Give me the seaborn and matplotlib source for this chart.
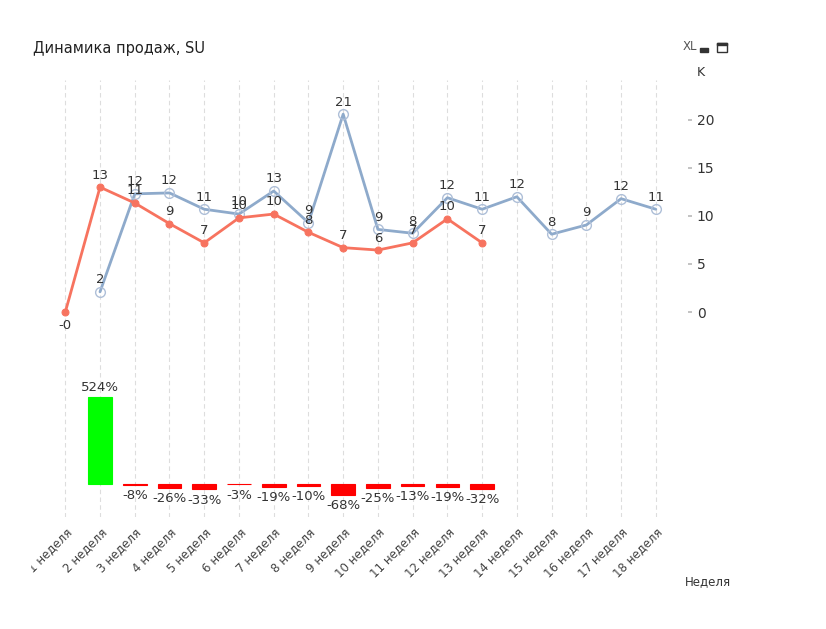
import numpy as np
import pandas as pd
import seaborn as sns
import matplotlib.pyplot as plt
from matplotlib.transforms import Bbox, TransformedBbox

# data (thousands, SU)
weeks = [f"{i} неделя" for i in range(1, 19)]
blue_vals = [np.nan, 2.1, 12.3, 12.4, 10.7, 10.2, 12.6, 9.3, 20.6, 8.6, 8.2,
             11.9, 10.7, 12.0, 8.1, 9.06, 11.8, 10.7]
red_vals = [-0.02, 13.0, 11.35, 9.2, 7.2, 9.8, 10.2, 8.3, 6.7, 6.45, 7.2, 9.7, 7.2]
pct_weeks = list(range(1, 13))  # positions of weeks 2..13
pct_vals = [524, -8, -26, -33, -3, -19, -10, -68, -25, -13, -19, -32]

blue_c = "#8eaacb"
red_c = "#f7735f"
txt_c = "#333333"

sns.set_theme(style="white")
plt.rcParams['font.family'] = ['DejaVu Sans']

fig = plt.figure(figsize=(8.26, 6.29), dpi=100)
ax = fig.add_axes([0.058, 0.178, 0.757, 0.695])

pos = np.arange(len(weeks))
df_b = pd.DataFrame({'x': pos, 'y': blue_vals}).dropna()
df_r = pd.DataFrame({'x': pos[:len(red_vals)], 'y': red_vals})

# percentage bars on a hidden twin axis (drawn below the lines)
ax2 = ax.twinx()
ax.set_zorder(ax2.get_zorder() + 1)
ax.patch.set_visible(False)
for p in pos:
    ax2.axvline(p, color='#dddddd', lw=0.8, ls=(0, (4, 3)), zorder=0)
df_p = pd.DataFrame({'x': pct_weeks, 'y': pct_vals,
                     'sign': ['pos' if v > 0 else 'neg' for v in pct_vals]})
sns.barplot(data=df_p, x='x', y='y', hue='sign', dodge=False, native_scale=True,
            palette={'pos': '#00ff00', 'neg': '#ff0000'}, width=0.68,
            saturation=1, legend=False, ax=ax2, zorder=2)
for bar in ax2.patches:
    bar.set_edgecolor(bar.get_facecolor())
    bar.set_linewidth(0.8)
ax2.set_ylim(-199, 2434)
ax2.set_xlim(-0.5, len(weeks) - 0.5)
ax2.set_yticks([])
ax2.set_ylabel("")
ax2.set_xlabel("")
for s in ax2.spines.values():
    s.set_visible(False)
for x, v in zip(pct_weeks, pct_vals):
    if v > 0:
        ax2.annotate(f"{v}%", (x, v), xytext=(0, 2), textcoords='offset points',
                     ha='center', va='bottom', fontsize=9.5, color=txt_c)
    else:
        ax2.annotate(f"{v}%", (x, v), xytext=(0, -3), textcoords='offset points',
                     ha='center', va='top', fontsize=9.5, color=txt_c)

sns.lineplot(data=df_b, x='x', y='y', color=blue_c, lw=2, marker='o', ms=7,
             markerfacecolor='none', markeredgecolor='#aebfd8', markeredgewidth=1,
             ax=ax, zorder=3)
sns.lineplot(data=df_r, x='x', y='y', color=red_c, lw=2, marker='o', ms=5,
             markerfacecolor=red_c, markeredgecolor=red_c, ax=ax, zorder=4)

for x, y in zip(df_b['x'], df_b['y']):
    ax.annotate(f"{y:.0f}", (x, y), xytext=(0, 4), textcoords='offset points',
                ha='center', va='bottom', fontsize=9.5, color=txt_c, zorder=6)
for x, y in zip(df_r['x'], df_r['y']):
    if y < 0:
        ax.annotate(f"{y:.0f}", (x, y), xytext=(0, -5), textcoords='offset points',
                    ha='center', va='top', fontsize=9.5, color=txt_c, zorder=6)
    else:
        ax.annotate(f"{y:.0f}", (x, y), xytext=(0, 4), textcoords='offset points',
                    ha='center', va='bottom', fontsize=9.5, color=txt_c, zorder=6)

ax.set_xlim(-0.5, len(weeks) - 0.5)
ax.set_ylim(-21.35, 24.17)
ax.set_xticks(pos)
ax.set_xticklabels(weeks, rotation=45, ha='right', rotation_mode='anchor',
                   fontsize=8.5, color='#444444')
ax.tick_params(axis='x', length=0, pad=6)
# the first label is cut at the chart's left edge, as in the original
clip = TransformedBbox(Bbox([[31 / 826, 0], [1, 1]]), fig.transFigure)
for lab in ax.get_xticklabels():
    lab.set_clip_on(True)
    lab.set_clip_box(clip)
ax.yaxis.tick_right()
ax.set_yticks([0, 5, 10, 15, 20])
ax.tick_params(axis='y', left=False, right=True, labelleft=False, labelright=True,
               length=3, color='#bbbbbb', labelsize=10, labelcolor=txt_c, pad=3,
               direction='out')
for s in ax.spines.values():
    s.set_visible(False)
ax.spines['right'].set_position(('outward', 11))
ax.set_xlabel("")
ax.set_ylabel("")

fig.text(0.04, 0.923, "Динамика продаж, SU", fontsize=10.5, color='#222222',
         va='center')
fig.text(0.827, 0.926, "XL", fontsize=8.5, color='#555555', va='center')
fig.text(0.843, 0.884, "K", fontsize=9, color=txt_c, va='center')
fig.text(0.829, 0.076, "Неделя", fontsize=8.5, color=txt_c, va='center')
# small minimize / maximize glyphs
fig.patches.append(plt.Rectangle((0.848, 0.918), 0.009, 0.005, transform=fig.transFigure,
                                 color='#333333'))
fig.patches.append(plt.Rectangle((0.868, 0.917), 0.012, 0.015, transform=fig.transFigure,
                                 fill=False, ec='#333333', lw=1))
fig.patches.append(plt.Rectangle((0.868, 0.929), 0.012, 0.003, transform=fig.transFigure,
                                 color='#333333'))

fig.savefig("out.png", dpi=100)
